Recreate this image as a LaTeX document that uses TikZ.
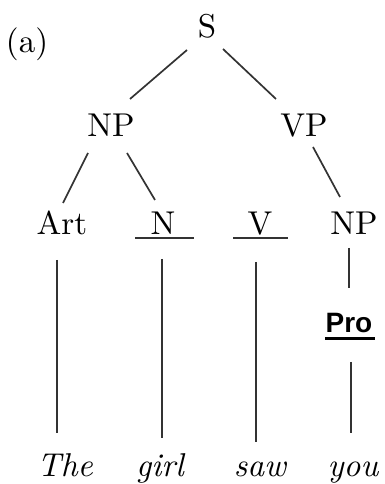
\documentclass[tikz,border=0pt]{standalone}
\usepackage{fontspec}
\setmainfont{lmroman10-regular.otf}[ItalicFont=lmroman10-italic.otf,BoldFont=lmroman10-bold.otf]
\newfontfamily\prosans{Liberation Sans}
\usetikzlibrary{calc}
\begin{document}
\begin{tikzpicture}[x=1pt,y=1pt,
  lab/.style={inner sep=0pt,anchor=base,font=\fontsize{33}{40}\selectfont},
  word/.style={lab,font=\fontsize{33}{40}\selectfont\itshape},
  edge/.style={draw=black!80,line width=1.7pt},
  ul/.style={draw=black!80,line width=1.4pt},
  ulthick/.style={draw=black,line width=3pt}]
\useasboundingbox (0,0) rectangle (384,484);
\node[lab] (a) at (27,431) {(a)};
\node[lab] (S) at (207,446) {S};
\node[lab] (NPa) at (111,347) {NP};
\node[lab] (VP) at (304,347) {VP};
\node[lab] (Art) at (62,249) {Art};
\node[lab] (N) at (163,249) {N};
\node[lab] (V) at (260,249) {V};
\node[lab] (NPb) at (354,249) {NP};
\node[inner sep=0pt,anchor=base,font=\prosans\bfseries\fontsize{28}{32}\selectfont] (Pro) at (349,151) {Pro};
\node[word] (The) at (65,8) {The};
\node[word] (girl) at (160,8) {girl};
\node[word] (saw) at (260,8) {saw};
\node[word] (you) at (353,8) {you};
% underlines
\draw[ul] ($(N.base)+(-28,-3)$) -- ($(N.base)+(31,-3)$);
\draw[ul] ($(V.base)+(-27,-3)$) -- ($(V.base)+(28,-3)$);
\draw[ulthick] ($(Pro.base)+(-24,-6)$) -- ($(Pro.base)+(26,-6)$);
% tree edges
\draw[edge] ($(S.base)+(-20,-12)$) -- ($(NPa.base)+(19,38)$);
\draw[edge] ($(S.base)+(16,-11)$) -- ($(VP.base)+(-28,38)$);
\draw[edge] ($(NPa.base)+(-23,-16)$) -- ($(Art.base)+(1,32)$);
\draw[edge] ($(NPa.base)+(16,-16)$) -- ($(N.base)+(-8,35)$);
\draw[edge] ($(VP.base)+(9,-10)$) -- ($(NPb.base)+(-14,38)$);
\draw[edge] ($(Art.base)+(-5,-25)$) -- ($(The.base)+(-8,43)$);
\draw[edge] ($(N.base)+(-1,-24)$) -- ($(girl.base)+(2,38)$);
\draw[edge] ($(V.base)+(-4,-27)$) -- ($(saw.base)+(-4,34)$);
\draw[edge] ($(NPb.base)+(-5,-13)$) -- ($(Pro.base)+(0,45)$);
\draw[edge] ($(Pro.base)+(2,-29)$) -- ($(you.base)+(-2,43)$);
\end{tikzpicture}
\end{document}
